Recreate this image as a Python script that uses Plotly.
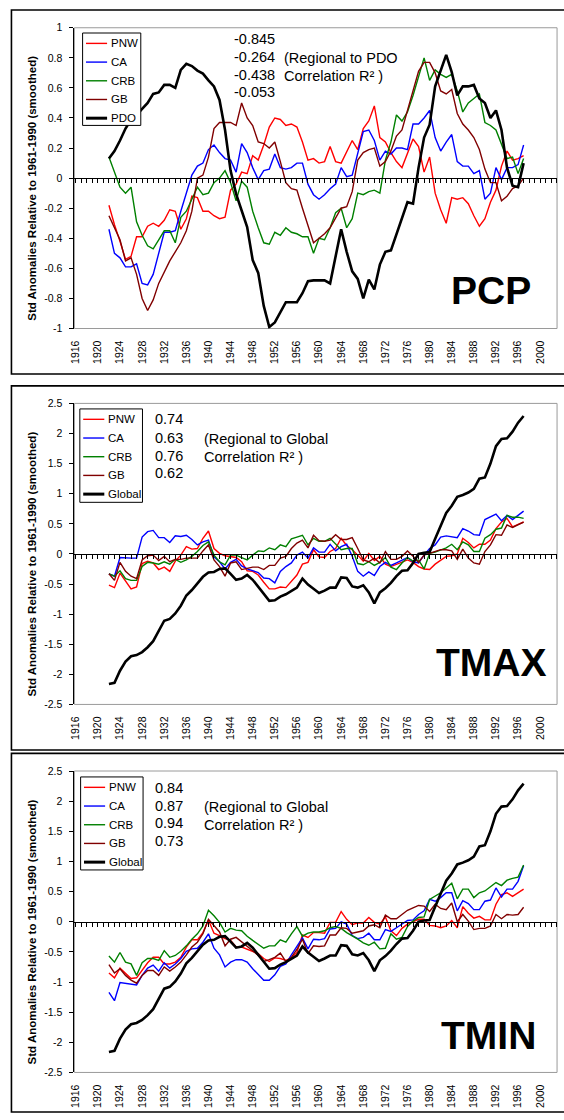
import plotly.graph_objects as go

W, H = 564, 1120
FONT = "Arial, Liberation Sans, Helvetica, sans-serif"

years = list(range(1922, 1998))

# ---------------- Precipitation (PCP) ----------------
pcp_pnw = [-0.18, -0.31, -0.42, -0.54, -0.52, -0.39, -0.39, -0.32, -0.30, -0.32,
           -0.28, -0.21, -0.22, -0.34, -0.27, -0.12, -0.13, -0.22, -0.22, -0.25,
           -0.27, -0.26, -0.08, -0.04, 0.04, 0.03, 0.15, 0.12, 0.22, 0.34,
           0.40, 0.39, 0.35, 0.36, 0.34, 0.24, 0.12, 0.13, 0.10, 0.11,
           0.21, 0.11, 0.10, 0.18, 0.25, 0.19, 0.33, 0.38, 0.48, 0.27,
           0.24, 0.17, 0.11, 0.07, 0.17, 0.26, 0.21, 0.04, 0.14, -0.10,
           -0.21, -0.30, -0.13, -0.14, -0.13, -0.17, -0.25, -0.32, -0.27, -0.16,
           -0.08, 0.08, 0.18, 0.12, 0.13, 0.15]
pcp_ca = [-0.34, -0.50, -0.53, -0.59, -0.59, -0.57, -0.70, -0.71, -0.64, -0.50,
          -0.36, -0.36, -0.35, -0.22, -0.10, 0.02, 0.08, 0.10, 0.19, 0.22,
          0.17, 0.13, 0.12, 0.04, 0.23, 0.17, 0.07, -0.01, 0.05, 0.06,
          0.16, 0.07, 0.06, 0.07, 0.10, 0.10, -0.04, -0.11, -0.14, -0.11,
          -0.07, -0.04, 0.07, 0.01, 0.02, 0.17, 0.31, 0.32, 0.25, 0.12,
          0.18, 0.16, 0.20, 0.20, 0.19, 0.36, 0.36, 0.40, 0.45, 0.27,
          0.18, 0.24, 0.29, 0.11, 0.08, 0.08, 0.03, 0.05, -0.14, -0.10,
          0.07, -0.01, 0.07, 0.07, 0.09, 0.22]
pcp_crb = [0.14, 0.04, -0.06, -0.10, -0.06, -0.29, -0.38, -0.45, -0.47, -0.41,
           -0.35, -0.35, -0.43, -0.26, -0.22, -0.14, -0.06, -0.11, -0.10, -0.03,
           0.00, 0.05, -0.03, -0.15, -0.02, -0.06, -0.22, -0.33, -0.43, -0.44,
           -0.36, -0.38, -0.33, -0.36, -0.37, -0.39, -0.39, -0.50, -0.40, -0.41,
           -0.33, -0.23, -0.20, -0.33, -0.27, -0.10, -0.11, -0.09, -0.08, -0.10,
           0.12, 0.24, 0.42, 0.38, 0.44, 0.55, 0.67, 0.80, 0.65, 0.72,
           0.69, 0.67, 0.69, 0.58, 0.44, 0.50, 0.53, 0.56, 0.37, 0.35,
           0.32, 0.22, 0.13, 0.14, 0.03, 0.13]
pcp_gb = [-0.25, -0.33, -0.41, -0.55, -0.53, -0.64, -0.80, -0.88, -0.81, -0.70,
          -0.62, -0.55, -0.49, -0.43, -0.35, -0.22, 0.00, 0.02, 0.14, 0.33,
          0.37, 0.37, 0.37, 0.35, 0.50, 0.40, 0.35, 0.24, 0.23, 0.20,
          0.24, 0.11, -0.03, -0.07, -0.08, -0.20, -0.31, -0.43, -0.40, -0.37,
          -0.33, -0.26, -0.20, -0.19, -0.09, 0.12, 0.17, 0.19, 0.20, 0.08,
          0.11, 0.18, 0.28, 0.32, 0.45, 0.59, 0.71, 0.77, 0.77, 0.70,
          0.58, 0.56, 0.59, 0.43, 0.36, 0.32, 0.27, 0.19, 0.06, -0.03,
          -0.03, -0.15, -0.12, -0.07, -0.05, 0.00]
pdo = [0.13, 0.18, 0.25, 0.33, 0.39, 0.42, 0.46, 0.50, 0.56, 0.57,
       0.62, 0.62, 0.60, 0.72, 0.76, 0.745, 0.715, 0.695, 0.65, 0.61,
       0.52, 0.32, 0.05, -0.105, -0.215, -0.325, -0.545, -0.63, -0.85, -0.99,
       -0.96, -0.895, -0.825, -0.825, -0.825, -0.765, -0.685, -0.68, -0.68, -0.68,
       -0.70, -0.52, -0.34, -0.49, -0.62, -0.67, -0.80, -0.675, -0.74, -0.575,
       -0.49, -0.48, -0.37, -0.26, -0.16, -0.17, 0.07, 0.27, 0.355, 0.61,
       0.72, 0.82, 0.705, 0.55, 0.61, 0.61, 0.62, 0.53, 0.50, 0.40,
       0.45, 0.32, 0.07, -0.05, -0.06, 0.10]
pcp_r = ["-0.845", "-0.264", "-0.438", "-0.053"]

# ---------------- Global temperature index (shared) ----------------
global_t = [-2.16, -2.14, -1.94, -1.79, -1.70, -1.68, -1.63, -1.55, -1.45, -1.28,
            -1.11, -1.08, -0.99, -0.86, -0.69, -0.60, -0.48, -0.38, -0.31, -0.30,
            -0.25, -0.24, -0.33, -0.43, -0.41, -0.35, -0.43, -0.55, -0.67, -0.78,
            -0.77, -0.71, -0.67, -0.62, -0.56, -0.41, -0.51, -0.58, -0.65, -0.61,
            -0.56, -0.56, -0.39, -0.40, -0.54, -0.56, -0.52, -0.64, -0.82, -0.64,
            -0.57, -0.48, -0.37, -0.28, -0.27, -0.15, 0.00, 0.02, 0.03, 0.25,
            0.48, 0.68, 0.80, 0.95, 0.98, 1.02, 1.08, 1.25, 1.27, 1.50,
            1.79, 1.91, 1.92, 2.03, 2.18, 2.29]

# ---------------- Maximum temperature (TMAX) ----------------
tmax_pnw = [-0.52, -0.56, -0.32, -0.45, -0.58, -0.55, -0.16, -0.12, -0.15, -0.26,
            -0.22, -0.29, -0.12, -0.02, 0.12, 0.08, 0.09, 0.26, 0.38, 0.09,
            0.01, -0.03, -0.04, -0.06, -0.13, -0.28, -0.29, -0.35, -0.47, -0.58,
            -0.58, -0.55, -0.56, -0.45, -0.35, -0.17, -0.14, 0.07, -0.05, -0.06,
            0.04, 0.09, 0.26, 0.14, 0.07, -0.02, -0.12, 0.01, -0.11, -0.04,
            -0.17, -0.21, -0.17, -0.13, -0.10, -0.14, -0.21, -0.25, -0.26, -0.17,
            -0.10, -0.04, -0.03, 0.00, 0.26, 0.19, 0.10, 0.16, 0.16, 0.23,
            0.42, 0.53, 0.59, 0.45, 0.49, 0.53]
tmax_ca = [-0.33, -0.37, -0.06, -0.07, -0.07, -0.07, 0.28, 0.37, 0.39, 0.27,
           0.27, 0.19, 0.30, 0.29, 0.31, 0.24, 0.15, 0.20, 0.23, -0.05,
           -0.13, -0.25, -0.14, -0.09, -0.20, -0.25, -0.28, -0.31, -0.40, -0.41,
           -0.48, -0.29, -0.21, -0.15, -0.02, 0.03, -0.07, 0.10, 0.03, 0.03,
           0.16, 0.05, 0.12, 0.16, -0.04, -0.29, -0.37, -0.30, -0.36, -0.21,
           -0.14, -0.19, -0.15, -0.10, -0.06, -0.13, -0.15, -0.02, 0.09, 0.15,
           0.28, 0.30, 0.28, 0.27, 0.42, 0.38, 0.32, 0.31, 0.57, 0.61,
           0.66, 0.55, 0.64, 0.57, 0.64, 0.71]
tmax_crb = [-0.33, -0.37, -0.28, -0.41, -0.44, -0.44, -0.21, -0.14, -0.15, -0.17,
            -0.13, -0.17, -0.09, -0.14, -0.10, -0.04, 0.04, 0.14, 0.20, -0.02,
            -0.13, -0.18, -0.02, -0.02, -0.06, -0.10, -0.02, 0.05, 0.04, 0.10,
            0.07, 0.15, 0.12, 0.25, 0.28, 0.31, 0.15, 0.26, 0.21, 0.21,
            0.26, 0.16, 0.07, 0.09, 0.09, -0.16, -0.18, -0.13, -0.19, -0.14,
            -0.06, -0.22, -0.26, -0.15, -0.06, -0.12, -0.10, -0.25, 0.01, 0.03,
            0.07, 0.10, 0.16, 0.07, 0.20, 0.15, 0.04, 0.04, 0.26, 0.32,
            0.41, 0.43, 0.64, 0.61, 0.61, 0.59]
tmax_gb = [-0.33, -0.44, -0.14, -0.29, -0.37, -0.41, -0.10, -0.03, -0.02, -0.11,
           -0.04, -0.13, -0.09, -0.09, -0.07, -0.07, -0.07, 0.05, 0.15, -0.10,
           -0.21, -0.37, -0.15, -0.13, -0.26, -0.24, -0.22, -0.22, -0.26, -0.19,
           -0.19, -0.07, -0.04, 0.09, 0.18, 0.23, 0.10, 0.31, 0.22, 0.21,
           0.23, 0.32, 0.24, 0.24, 0.27, 0.09, -0.10, -0.13, -0.07, -0.15,
           0.04, -0.09, -0.09, -0.04, 0.05, -0.04, -0.14, -0.02, 0.01, 0.04,
           0.07, 0.07, 0.05, -0.09, 0.08, -0.07, -0.15, -0.17, 0.04, 0.15,
           0.32, 0.31, 0.48, 0.44, 0.48, 0.53]
tmax_r = ["0.74", "0.63", "0.76", "0.62"]

# ---------------- Minimum temperature (TMIN) ----------------
tmin_pnw = [-0.85, -0.93, -0.77, -0.86, -0.94, -0.93, -0.81, -0.68, -0.59, -0.59,
            -0.70, -0.70, -0.67, -0.59, -0.42, -0.30, -0.30, -0.18, 0.03, -0.19,
            -0.23, -0.28, -0.31, -0.42, -0.42, -0.46, -0.49, -0.53, -0.61, -0.66,
            -0.60, -0.61, -0.64, -0.60, -0.51, -0.22, -0.26, -0.18, -0.18, -0.19,
            -0.01, -0.01, 0.17, 0.04, -0.05, -0.02, -0.02, 0.07, -0.01, -0.04,
            0.08, -0.15, -0.23, -0.11, -0.04, 0.00, 0.04, 0.04, -0.06, -0.07,
            -0.10, -0.07, 0.02, -0.10, 0.25, 0.14, 0.06, 0.09, 0.03, 0.03,
            0.29, 0.45, 0.48, 0.42, 0.48, 0.54]
tmin_ca = [-1.17, -1.31, -1.01, -1.02, -1.04, -1.05, -0.89, -0.77, -0.72, -0.82,
           -0.68, -0.77, -0.70, -0.61, -0.49, -0.45, -0.44, -0.34, -0.20, -0.44,
           -0.55, -0.75, -0.67, -0.63, -0.63, -0.67, -0.78, -0.88, -0.97, -0.97,
           -0.88, -0.74, -0.70, -0.55, -0.40, -0.27, -0.45, -0.29, -0.30, -0.28,
           -0.12, -0.11, 0.00, -0.04, -0.23, -0.28, -0.26, -0.19, -0.30, -0.30,
           -0.13, -0.16, -0.10, -0.04, 0.02, 0.03, 0.12, 0.18, 0.37, 0.34,
           0.40, 0.48, 0.48, 0.18, 0.35, 0.30, 0.20, 0.20, 0.34, 0.36,
           0.56, 0.41, 0.54, 0.54, 0.67, 0.93]
tmin_crb = [-0.57, -0.67, -0.51, -0.67, -0.70, -0.89, -0.68, -0.61, -0.61, -0.64,
            -0.48, -0.59, -0.56, -0.49, -0.40, -0.29, -0.20, -0.07, 0.19, 0.10,
            -0.01, -0.17, -0.11, -0.14, -0.15, -0.24, -0.31, -0.38, -0.44, -0.40,
            -0.40, -0.30, -0.34, -0.20, -0.08, -0.24, -0.19, -0.17, -0.17, -0.15,
            -0.10, -0.08, -0.11, -0.18, -0.23, -0.29, -0.35, -0.39, -0.34, -0.45,
            -0.44, -0.20, -0.29, -0.26, -0.08, 0.01, 0.07, 0.08, 0.37, 0.42,
            0.48, 0.56, 0.64, 0.38, 0.54, 0.54, 0.40, 0.48, 0.51, 0.58,
            0.65, 0.60, 0.69, 0.72, 0.74, 0.94]
tmin_gb = [-0.71, -0.85, -0.78, -0.89, -0.97, -1.02, -0.89, -0.81, -0.81, -0.89,
           -0.75, -0.82, -0.75, -0.67, -0.55, -0.42, -0.34, -0.20, 0.04, -0.07,
           -0.17, -0.40, -0.29, -0.26, -0.33, -0.40, -0.48, -0.56, -0.66, -0.63,
           -0.59, -0.52, -0.66, -0.59, -0.46, -0.29, -0.53, -0.40, -0.41, -0.40,
           -0.22, -0.22, -0.10, -0.11, -0.19, -0.17, -0.15, -0.07, -0.05, -0.10,
           0.11, 0.05, 0.05, 0.12, 0.19, 0.23, 0.27, 0.26, 0.17, 0.29,
           0.22, 0.20, 0.31, 0.00, 0.12, 0.01, -0.13, -0.11, -0.11, -0.07,
           0.12, 0.05, 0.12, 0.11, 0.12, 0.24]
tmin_r = ["0.84", "0.87", "0.94", "0.73"]

# ---------------- axis ticks ----------------
xtick_years = list(range(1916, 2001, 4))
pcp_ticks = [1, 0.8, 0.6, 0.4, 0.2, 0, -0.2, -0.4, -0.6, -0.8, -1]
pcp_ticktext = ["1", "0.8", "0.6", "0.4", "0.2", "0", "-0.2", "-0.4", "-0.6", "-0.8", "-1"]
temp_ticks = [2.5, 2, 1.5, 1, 0.5, 0, -0.5, -1, -1.5, -2, -2.5]
temp_ticktext = ["2.5", "2", "1.5", "1", "0.5", "0", "-0.5", "-1", "-1.5", "-2", "-2.5"]

regions = ["PNW", "CA", "CRB", "GB"]
colors = {"PNW": "#FF0000", "CA": "#0000FF", "CRB": "#008000", "GB": "#800000"}
YTITLE = "Std Anomalies Relative to 1961-1990 (smoothed)"
XRANGE = [1915.75, 2003.05]
REG_W, REF_W = 1.4, 2.6


def px(x):
    return x / W


def py(y):
    return 1 - y / H


fig = go.Figure()

panels = [
    dict(name="PCP", series=[pcp_pnw, pcp_ca, pcp_crb, pcp_gb], ref=pdo, ref_name="PDO",
         yrange=[-1, 1], ticks=pcp_ticks, ticktext=pcp_ticktext, r=pcp_r,
         note=["(Regional to PDO", "Correlation R² )"],
         top=22, bottom=326, frame=(4, 372), legend=(78.3, 27.3, 137.0, 120.7),
         r_pos=(229.3, [33.3, 51.7, 69.3, 87.3]), note_pos=(279.5, [52.2, 70.8]),
         label_pos=(490.6, 287.5)),
    dict(name="TMAX", series=[tmax_pnw, tmax_ca, tmax_crb, tmax_gb], ref=global_t, ref_name="Global",
         yrange=[-2.5, 2.5], ticks=temp_ticks, ticktext=temp_ticktext, r=tmax_r,
         note=["(Regional to Global", "Correlation R² )"],
         top=401.7, bottom=706, frame=(384, 752), legend=(75.5, 407.3, 138.7, 501.7),
         r_pos=(149.3, [417.7, 437.0, 455.0, 472.3]), note_pos=(199, [437.7, 455.7]),
         label_pos=(491, 663.3)),
    dict(name="TMIN", series=[tmin_pnw, tmin_ca, tmin_crb, tmin_gb], ref=global_t, ref_name="Global",
         yrange=[-2.5, 2.5], ticks=temp_ticks, ticktext=temp_ticktext, r=tmin_r,
         note=["(Regional to Global", "Correlation R² )"],
         top=773.3, bottom=1078, frame=(755.5, 1118), legend=(76.3, 779.3, 139.3, 873.3),
         r_pos=(149.3, [790.0, 808.3, 826.0, 844.3]), note_pos=(199, [810.0, 828.3]),
         label_pos=(487.8, 1040.8)),
]

PLOT_L, PLOT_R = 70, 557
LEG_STEP = 18.9
shapes = []
annotations = []
layout_axes = {}

for i, p in enumerate(panels):
    k = i + 1
    xa = "x" if k == 1 else f"x{2 * k - 1}"          # labelled year axis (regional series)
    xz = f"x{2 * k}"                                 # zero-line axis with yearly ticks (reference series)
    ya = "y" if k == 1 else f"y{k}"
    ydom = [py(p["bottom"]), py(p["top"])]

    for reg, vals in zip(regions, p["series"]):
        fig.add_trace(go.Scatter(x=years, y=vals, name=reg, mode="lines",
                                 line=dict(color=colors[reg], width=REG_W),
                                 xaxis=xa, yaxis=ya, showlegend=False))
    fig.add_trace(go.Scatter(x=years, y=p["ref"], name=p["ref_name"], mode="lines",
                             line=dict(color="#000000", width=REF_W),
                             xaxis=xz, yaxis=ya, showlegend=False))

    xkey = "xaxis" if k == 1 else f"xaxis{2 * k - 1}"
    zkey = f"xaxis{2 * k}"
    ykey = "yaxis" if k == 1 else f"yaxis{k}"

    layout_axes[xkey] = dict(domain=[px(PLOT_L), px(PLOT_R)], anchor=ya, range=XRANGE,
                             tickmode="array", tickvals=xtick_years,
                             ticktext=[str(v) for v in xtick_years],
                             tickangle=-90, ticks="", showline=False, showgrid=False,
                             zeroline=False, ticklabelstandoff=9,
                             tickfont=dict(family=FONT, size=10.5, color="#000"))
    layout_axes[zkey] = dict(overlaying=xa, anchor="free", position=sum(ydom) / 2,
                             domain=[px(PLOT_L), px(PLOT_R)], range=XRANGE,
                             tickmode="linear", tick0=1916, dtick=1,
                             ticks="outside", ticklen=4, tickwidth=1, tickcolor="#000",
                             showticklabels=False, showline=True, linecolor="#000",
                             linewidth=1.3, showgrid=False, zeroline=False)
    layout_axes[ykey] = dict(domain=ydom, anchor=xa, range=p["yrange"],
                             tickmode="array", tickvals=p["ticks"], ticktext=p["ticktext"],
                             ticks="outside", ticklen=4, tickcolor="#000",
                             showline=True, linecolor="#000", linewidth=1,
                             showgrid=False, zeroline=False, ticklabelstandoff=5,
                             tickfont=dict(family=FONT, size=10.5, color="#000"))

    # plot-area border
    shapes.append(dict(type="rect", xref=f"{xa} domain", yref=f"{ya} domain",
                       x0=0, x1=1, y0=0, y1=1, line=dict(color="#9a9a9a", width=1),
                       layer="below"))
    # panel frame
    f0, f1 = p["frame"]
    shapes.append(dict(type="rect", xref="paper", yref="paper",
                       x0=px(6.5), x1=1.05, y0=py(f1), y1=py(f0),
                       line=dict(color="#000", width=1.6)))

    # legend box with line samples
    lx0, ly0, lx1, ly1 = p["legend"]
    shapes.append(dict(type="rect", xref="paper", yref="paper",
                       x0=px(lx0), x1=px(lx1), y0=py(ly1), y1=py(ly0),
                       fillcolor="#fff", line=dict(color="#000", width=1)))
    entries = [(reg, colors[reg], REG_W) for reg in regions] + [(p["ref_name"], "#000", REF_W + 0.4)]
    for j, (lab, col, lw) in enumerate(entries):
        ey = ly0 + 10.5 + j * LEG_STEP
        shapes.append(dict(type="line", xref="paper", yref="paper",
                           x0=px(lx0 + 3.4), x1=px(lx0 + 24.7), y0=py(ey), y1=py(ey),
                           line=dict(color=col, width=lw)))
        annotations.append(dict(x=px(lx0 + 26.5), y=py(ey), xref="paper", yref="paper",
                                text=lab, showarrow=False, xanchor="left", yanchor="middle",
                                font=dict(family=FONT, size=11.5, color="#000")))

    # correlation values and note
    rx, rys = p["r_pos"]
    for txt, yy in zip(p["r"], rys):
        annotations.append(dict(x=px(rx), y=py(yy), xref="paper", yref="paper",
                                text=txt, showarrow=False, xanchor="left", yanchor="middle",
                                font=dict(family=FONT, size=14.5, color="#000")))
    nx, nys = p["note_pos"]
    for txt, yy in zip(p["note"], nys):
        annotations.append(dict(x=px(nx), y=py(yy), xref="paper", yref="paper",
                                text=txt, showarrow=False, xanchor="left", yanchor="middle",
                                font=dict(family=FONT, size=14.5, color="#000")))
    # panel label
    lx, ly = p["label_pos"]
    annotations.append(dict(x=px(lx), y=py(ly), xref="paper", yref="paper",
                            text=f"<b>{p['name']}</b>", showarrow=False,
                            xanchor="center", yanchor="middle",
                            font=dict(family=FONT, size=39, color="#000")))
    # y-axis title
    annotations.append(dict(x=px(27), y=py((p["top"] + p["bottom"]) / 2 + 10),
                            xref="paper", yref="paper", text=f"<b>{YTITLE}</b>",
                            showarrow=False, textangle=-90, xanchor="center",
                            yanchor="middle",
                            font=dict(family=FONT, size=11.5, color="#000")))

fig.update_layout(**layout_axes)
fig.update_layout(width=W, height=H, margin=dict(l=0, r=0, t=0, b=0),
                  paper_bgcolor="#fff", plot_bgcolor="#fff", showlegend=False,
                  shapes=shapes, annotations=annotations, hovermode=False)

fig.write_html("out.html")
